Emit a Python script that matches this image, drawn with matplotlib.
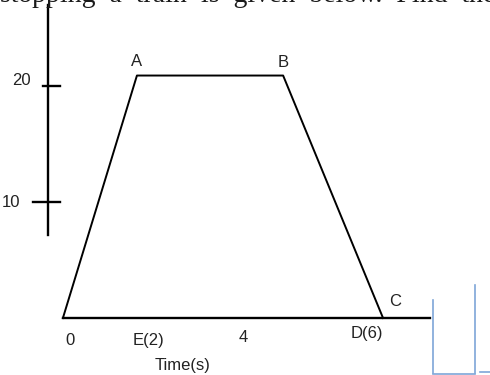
import matplotlib
matplotlib.use("Agg")
import matplotlib.pyplot as plt
from matplotlib.lines import Line2D

# velocity-time sketch (schematic, not to scale)
time_pts = [0, 2, 5.95, 8.65]        # O, A, B, D along the time axis
vel_pts = [0, 20.9, 20.9, 0]         # km/h
vertex_names = ["A", "B", "C"]
y_ticks = [10, 20]
x_tick_labels = ["0", "E(2)", "4", "D(6)"]
x_label_pos = [0.19, 2.32, 4.86, 8.22]
x_axis_end = 9.92

plt.rcParams['font.family'] = ['Liberation Sans', 'DejaVu Sans']

fig = plt.figure(figsize=(4.9, 3.75), dpi=100)
ax = fig.add_axes([0, 0, 1, 1])
ax.set_xlim(-1.70, 11.54)
ax.set_ylim(-4.91, 27.41)
ax.axis('off')

# trapezoid
ax.plot(time_pts, vel_pts, color='black', lw=1.4)

# time axis
ax.plot([0, x_axis_end], [0, 0], color='black', lw=1.7)

# velocity axis (detached from origin, like the sketch)
y_axis_x = -0.405
ax.plot([y_axis_x, y_axis_x], [7.16, 27.0], color='black', lw=1.7)
tick_left = {10: -0.81, 20: -0.54}
for v in y_ticks:
    ax.plot([tick_left[v], -0.08], [v, v], color='black', lw=1.7)
ax.text(-1.13, 20.5, "20", fontsize=12, ha='center', va='center', color='#222222')
ax.text(-1.40, 10, "10", fontsize=12, ha='center', va='center', color='#222222')

# x labels
for lab, xp in zip(x_tick_labels, x_label_pos):
    yoff = -1.9 if lab != "D(6)" else -1.3
    if lab == "4":
        yoff = -1.7
    ax.text(xp, yoff, lab, fontsize=12, ha='center', va='center', color='#222222')
ax.text(3.22, -4.1, "Time(s)", fontsize=12, ha='center', va='center', color='#222222')

# vertex letters
ax.text(time_pts[1], 22.1, vertex_names[0], fontsize=12, ha='center', va='center', color='#222222')
ax.text(time_pts[2], 22.0, vertex_names[1], fontsize=12, ha='center', va='center', color='#222222')
ax.text(8.97, 1.4, vertex_names[2], fontsize=12, ha='center', va='center', color='#222222')

# line of page text above the figure, cut by the top edge as in the scan
fig.text(0.0, 1 - 2/375, "stopping  a  train  is  given  below.  Find  the  distance",
         fontsize=20, family='Liberation Serif', ha='left', va='baseline', color='#1a1a1a')

# bits of a neighbouring box cut off at the right edge
blue = '#7ea6d8'
fig.add_artist(Line2D([433/490, 433/490], [1 - 300/375, 1 - 373/375], color=blue, lw=1.2))
fig.add_artist(Line2D([475/490, 475/490], [1 - 285/375, 1 - 373/375], color=blue, lw=1.2))
fig.add_artist(Line2D([433/490, 475/490], [1 - 373.5/375, 1 - 373.5/375], color=blue, lw=1.2))
fig.add_artist(Line2D([480/490, 490/490], [1 - 372/375, 1 - 372/375], color=blue, lw=1.2))

fig.savefig("out.png", dpi=100)
